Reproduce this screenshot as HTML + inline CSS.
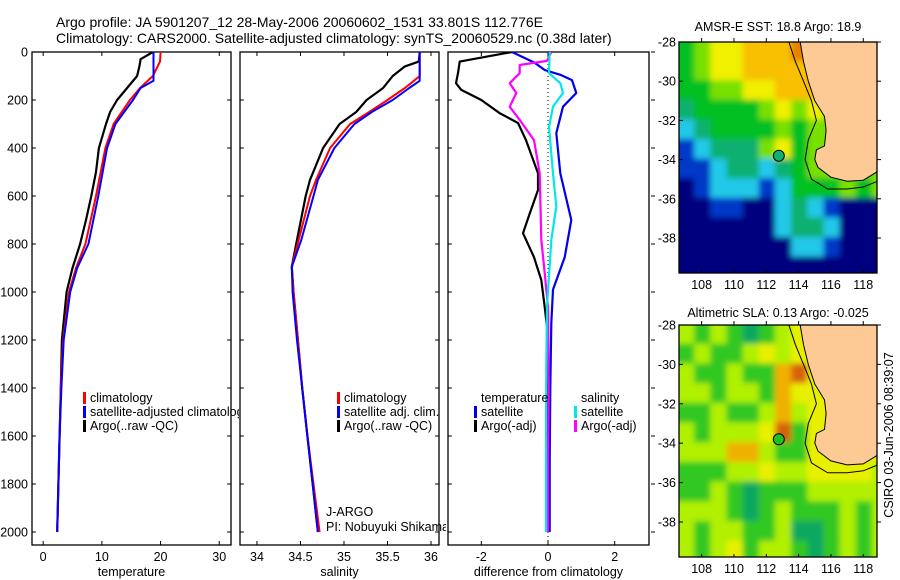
<!DOCTYPE html>
<html><head><meta charset="utf-8"><style>
html,body{margin:0;padding:0;background:#fff;}
svg{display:block;font-family:"Liberation Sans",sans-serif;}
text{fill:#000;}
</style></head><body>
<svg id="fig" width="900" height="580" viewBox="0 0 900 580" xmlns="http://www.w3.org/2000/svg">
<defs>
<clipPath id="clipP1"><rect x="32" y="52" width="199" height="493"/></clipPath>
<clipPath id="clipP2"><rect x="240" y="52" width="199" height="493"/></clipPath>
<clipPath id="clipP3"><rect x="448" y="52" width="201" height="493"/></clipPath>
<clipPath id="clipLeg1"><rect x="32" y="52" width="207" height="493"/></clipPath>
<clipPath id="clipLeg2"><rect x="240" y="52" width="206" height="493"/></clipPath>
<clipPath id="clipM1"><rect x="679" y="42" width="198" height="231"/></clipPath>
<clipPath id="clipM2"><rect x="679" y="325" width="198" height="232"/></clipPath>
<filter id="soft" filterUnits="userSpaceOnUse" x="600" y="0" width="300" height="580"><feGaussianBlur stdDeviation="3"/></filter>
</defs>
<text x="56" y="27" font-size="14">Argo profile: JA 5901207_12 28-May-2006 20060602_1531 33.801S 112.776E</text>
<text x="56" y="43" font-size="14">Climatology: CARS2000. Satellite-adjusted climatology: synTS_20060529.nc (0.38d later)</text>
<g id="root"></g>
<text x="778" y="31" font-size="12.5" text-anchor="middle">AMSR-E SST: 18.8 Argo: 18.9</text>
<text x="778" y="317" font-size="12.5" text-anchor="middle">Altimetric SLA: 0.13 Argo: -0.025</text>
<text transform="translate(893,435) rotate(-90)" font-size="12.5" text-anchor="middle">CSIRO 03-Jun-2006 08:39:07</text>
</svg>
<script>
// ---------- profile data ----------
const depthTempArgo = [0,30,60,100,150,200,250,300,400,500,600,700,800,900,1000,1200,1400,1600,1800,2000];
const tempArgo      = [18.7,16.6,16.4,16.0,14.3,12.6,11.4,10.7,9.5,9.0,8.2,7.3,6.3,5.0,4.0,3.2,3.0,2.8,2.6,2.4];
const depthTempClim = [0,40,100,150,200,300,400,600,800,900,1000,1200,1400,1600,1800,2000];
const tempClim      = [20.0,19.9,18.7,16.5,14.8,12.0,10.6,9.0,7.2,5.6,4.4,3.4,3.0,2.8,2.6,2.4];
const depthTempSat  = [0,120,150,200,300,400,600,800,900,1000,1200,1400,1600,1800,2000];
const tempSat       = [18.8,18.8,16.6,15.3,12.3,10.9,9.4,7.7,5.8,4.6,3.5,3.1,2.8,2.6,2.4];

const depthSalArgo = [0,40,60,100,150,200,250,300,400,533,600,783,895,1000,1200,1400,1600,1800,2000];
const salArgo      = [35.87,35.86,35.70,35.56,35.45,35.26,35.14,34.95,34.76,34.61,34.56,34.46,34.40,34.42,34.47,34.52,34.58,34.64,34.70];
const depthSalClim = [0,100,130,150,200,250,300,400,533,600,783,895,1000,1200,1400,1600,1800,2000];
const salClim      = [35.87,35.87,35.77,35.70,35.50,35.29,35.07,34.84,34.68,34.61,34.48,34.40,34.42,34.47,34.52,34.58,34.65,34.72];
const depthSalSat  = [0,120,150,200,250,300,400,533,600,783,895,1000,1200,1400,1600,1800,2000];
const salSat       = [35.87,35.87,35.75,35.56,35.32,35.12,34.89,34.70,34.65,34.51,34.40,34.41,34.46,34.52,34.58,34.64,34.70];

const depthDiffTA = [0,40,88,130,158,200,255,296,367,505,575,670,755,855,950,1062,1145,1400,1700,2000];
const diffTArgo   = [-1.08,-2.65,-2.7,-2.76,-2.6,-2.0,-1.45,-0.9,-0.66,-0.3,-0.3,-0.54,-0.75,-0.42,-0.2,-0.1,-0.03,0.0,0.0,0.0];
const depthDiffTS = [0,45,75,95,117,171,228,338,505,700,855,990,1130,1400,1700,2000];
const diffTSat    = [-1.08,-0.4,-0.1,0.37,0.72,0.85,0.45,0.25,0.37,0.7,0.5,0.15,0.1,0.07,0.05,0.05];
const depthDiffSA = [0,37,54,88,130,171,228,283,367,505,783,921,1062,1400,1700,2000];
const diffSArgo   = [0.1,-0.03,-0.85,-0.85,-1.15,-0.95,-1.15,-0.85,-0.42,-0.25,-0.2,-0.1,0.0,0.02,0.0,0.0];
const depthDiffSS = [0,88,130,171,228,312,505,645,783,1062,1300,1600,2000];
const diffSSat    = [0.05,0.03,0.37,0.45,0.15,0.03,0.15,0.25,0.1,-0.03,-0.05,-0.06,-0.06];

const depthTicks = [0,200,400,600,800,1000,1200,1400,1600,1800,2000];
const tempTicks = [0,10,20,30];
const salTicks = [34,34.5,35,35.5,36];
const diffTicks = [-2,0,2];

// ---------- map data ----------
const mapLatTicks = [28,30,32,34,36,38];
const mapLonTicks = [108,110,112,114,116,118];
const sstRows = ["GLYYOOORRYLLL","GLYYOOOOOYLLL","GGLLYYOOOYLLL","TGGGGLYLYLLLL","CTGGGGLGLLLLL","BCTTTLYGLLLLL","BBCTTCTGLLLLL","NBCCCBCGGGLGL","NNBBNNCTCBNNN","NNNNNNCTTCNNN","NNNNNNNCCBNNN","NNNNNNNNNNNNN"];
const slaRows = ["LGLGTGLYYYYYY","GLGGLYLYYYYYY","LGGLGGORYYYYY","LLGLLGOYYYYYY","GGLGGLOLYYYYY","LGLLLYRGYYYYY","LLLOOLGGYYYYY","GGGLLYLLYYYYL","GGLGTGGGLLLLL","LLLGTGLGGGLGL","LGLLGGLTTGLGL","LGLYGLLGTGLGL"];
const coastLon = [114.1,114.3,114.6,115.0,115.6,115.7,115.6,115.1,115.0,115.2,116.0,117.0,118.0,118.9,118.9];
const coastLat = [28.0,29.0,30.0,31.0,31.8,32.5,33.3,33.5,34.0,34.4,34.9,35.1,35.05,34.6,28.0];
const shelfLon = [113.4,113.8,114.3,114.8,115.1,114.6,114.4,114.8,115.8,117.0,118.0,118.9];
const shelfLat = [28.0,29.0,30.0,31.0,32.0,33.0,34.0,35.0,35.5,35.5,35.4,35.1];
const argoLon = [112.776];
const argoLat = [33.801];

const NS = "http://www.w3.org/2000/svg";
const root = document.getElementById('root');
function mk(tag, attrs, parent){
  const e = document.createElementNS(NS, tag);
  for (const k in attrs) e.setAttribute(k, attrs[k]);
  (parent || root).appendChild(e);
  return e;
}
const Y0 = 52, DPX = 0.24;
function yDepth(d){ return Y0 + d * DPX; }
function makeX(x0, x1, vmin, vmax){ return v => x0 + (v - vmin) / (vmax - vmin) * (x1 - x0); }

const panels = [
  {name:'temperature', x0:32, x1:231, xs:makeX(32,231,-1.9,32), ticks:tempTicks, label:'temperature', clip:'clipP1'},
  {name:'salinity', x0:240, x1:439, xs:makeX(240,439,33.805,36.092), ticks:salTicks, label:'salinity', clip:'clipP2'},
  {name:'difference', x0:448, x1:649, xs:makeX(448,649,-3.0,3.03), ticks:diffTicks, label:'difference from climatology', clip:'clipP3'}
];
const YB = 545;

panels.forEach((p, i) => {
  const g = mk('g', {});
  
  
  const fr = mk('rect', {x:p.x0, y:Y0, width:p.x1-p.x0, height:YB-Y0, fill:'none', stroke:'#000', 'stroke-width':1.3}, g);
  
  
  p.ticks.forEach(t => {
    const x = p.xs(t);
    mk('line', {x1:x, x2:x, y1:YB, y2:YB-4, stroke:'#000'}, g);
    mk('line', {x1:x, x2:x, y1:Y0, y2:Y0+4, stroke:'#000'}, g);
    const tl = mk('text', {x:x, y:561, 'font-size':12.5, 'text-anchor':'middle'}, g);
    tl.textContent = String(t);
    
    
  });
  depthTicks.forEach(d => {
    const y = yDepth(d);
    mk('line', {x1:p.x0, x2:p.x0+4, y1:y, y2:y, stroke:'#000'}, g);
    if (i < 2) mk('line', {x1:p.x1, x2:p.x1-4, y1:y, y2:y, stroke:'#000'}, g);
    else mk('line', {x1:p.x1+2, x2:p.x1+6, y1:y, y2:y, stroke:'#000'}, g);
    if (i === 0) {
      const yl = mk('text', {x:28, y:y+4.5, 'font-size':12.5, 'text-anchor':'end'}, g);
      yl.textContent = String(d);
      
      
    }
  });
  const xl = mk('text', {x:(p.x0+p.x1)/2, y:576, 'font-size':12.5, 'text-anchor':'middle'}, g);
  xl.textContent = p.label;
  
  
});

function drawLine(p, depths, vals, color, w, name){
  const pts = depths.map((d, k) => p.xs(vals[k]).toFixed(1) + ',' + yDepth(d).toFixed(1)).join(' ');
  const l = mk('polyline', {points:pts, fill:'none', stroke:color, 'stroke-width':w, 'stroke-linejoin':'round', 'clip-path':'url(#' + p.clip + ')'});
  
  
}
const zl = mk('line', {x1:panels[2].xs(0), x2:panels[2].xs(0), y1:Y0, y2:YB, stroke:'#000', 'stroke-dasharray':'1,3'});



drawLine(panels[0], depthTempArgo, tempArgo, '#000', 2.2, 'temperature-argo-line');
drawLine(panels[0], depthTempClim, tempClim, '#ff0000', 2, 'temperature-climatology-line');
drawLine(panels[0], depthTempSat, tempSat, '#0000ff', 2, 'temperature-satellite-line');
drawLine(panels[1], depthSalArgo, salArgo, '#000', 2.2, 'salinity-argo-line');
drawLine(panels[1], depthSalClim, salClim, '#ff0000', 2, 'salinity-climatology-line');
drawLine(panels[1], depthSalSat, salSat, '#0000ff', 2, 'salinity-satellite-line');
drawLine(panels[2], depthDiffTA, diffTArgo, '#000', 2.2, 'temp-diff-argo-line');
drawLine(panels[2], depthDiffTS, diffTSat, '#0000ee', 2.2, 'temp-diff-satellite-line');
drawLine(panels[2], depthDiffSA, diffSArgo, '#ff00ff', 2.2, 'sal-diff-argo-line');
drawLine(panels[2], depthDiffSS, diffSSat, '#00e8e8', 2.2, 'sal-diff-satellite-line');

function legendEntry(x, y, color, label, clip){
  const g = mk('g', clip ? {'clip-path':'url(#' + clip + ')'} : {});
  
  
  if (color) mk('rect', {x:x-7, y:y-10, width:3, height:12, fill:color}, g);
  const t = mk('text', {x:x, y:y, 'font-size':12.5}, g);
  t.textContent = label;
}
legendEntry(90, 402, '#ff0000', 'climatology', 'clipLeg1');
legendEntry(90, 416, '#0000ff', 'satellite-adjusted climatology', 'clipLeg1');
legendEntry(90, 430, '#000', 'Argo(..raw -QC)', 'clipLeg1');
legendEntry(344, 402, '#ff0000', 'climatology', 'clipLeg2');
legendEntry(344, 416, '#0000ff', 'satellite adj. clim.', 'clipLeg2');
legendEntry(344, 430, '#000', 'Argo(..raw -QC)', 'clipLeg2');
legendEntry(326, 516, null, 'J-ARGO', 'clipLeg2');
legendEntry(326, 531, null, 'PI: Nobuyuki Shikama', 'clipLeg2');
legendEntry(481, 402, null, 'temperature', null);
legendEntry(481, 416, '#0000ee', 'satellite', null);
legendEntry(481, 430, '#000', 'Argo(-adj)', null);
legendEntry(581, 402, null, 'salinity', null);
legendEntry(581, 416, '#00e8e8', 'satellite', null);
legendEntry(581, 430, '#ff00ff', 'Argo(-adj)', null);

const sstColors = {N:'#00007f',B:'#0038c8',C:'#20c8e8',T:'#10b070',G:'#00c020',L:'#78e000',Y:'#f0f000',O:'#f8c000',R:'#e88000',D:'#c85000'};
const slaColors = {L:'#b0f000',G:'#30c820',T:'#10a860',Y:'#e8f000',O:'#f0b000',R:'#d86010'};
function drawMap(cfg){
  const lonS = makeX(679, 877, 106.6, 118.85);
  const latS = v => cfg.y28 + (v - 28) * cfg.dy;
  const g = mk('g', {});
  
  
  const cg = mk('g', {'clip-path':'url(#' + cfg.clip + ')'}, g);
  const grid = mk('g', {filter:'url(#soft)'}, cg);
  cfg.rows.forEach((row, r) => {
    for (let c = 0; c < row.length; c++) {
      const x = lonS(106.6 + c), y = latS(28 + r);
      const ex0 = c === 0 ? 10 : 0, ey0 = r === 0 ? 10 : 0;
      const ex1 = c === row.length - 1 ? 10 : 0, ey1 = r === cfg.rows.length - 1 ? 10 : 0;
      const cell = mk('rect', {x:x-1-ex0, y:y-1-ey0, width:lonS(107.6+c)-x+2+ex0+ex1, height:cfg.dy+2+ey0+ey1, fill:cfg.colors[row[c]]}, grid);
      
      
    }
  });
  const land = mk('polygon', {points: coastLon.map((lo, k) => lonS(lo).toFixed(1) + ',' + latS(coastLat[k]).toFixed(1)).join(' ') + ' ' + lonS(120) + ',' + latS(34.6) + ' ' + lonS(120) + ',' + latS(27), fill:'#fdca96', stroke:'#000', 'stroke-width':1}, cg);
  
  
  const shelf = mk('polyline', {points: shelfLon.map((lo, k) => lonS(lo).toFixed(1) + ',' + latS(shelfLat[k]).toFixed(1)).join(' '), fill:'none', stroke:'#000', 'stroke-width':1}, cg);
  
  
  const dot = mk('circle', {cx:lonS(argoLon[0]), cy:latS(argoLat[0]), r:5.5, fill:cfg.dot, stroke:'#000', 'stroke-width':1}, cg);
  
  
  const fr = mk('rect', {x:679, y:cfg.y0, width:198, height:cfg.y1-cfg.y0, fill:'none', stroke:'#000', 'stroke-width':1.3}, g);
  
  
  mapLatTicks.forEach(la => {
    const y = latS(la);
    mk('line', {x1:679, x2:683, y1:y, y2:y, stroke:'#000'}, g);
    mk('line', {x1:877, x2:881, y1:y, y2:y, stroke:'#000'}, g);
    const t = mk('text', {x:676, y:y+4.5, 'font-size':12.5, 'text-anchor':'end'}, g);
    t.textContent = '-' + la;
    
    
  });
  mapLonTicks.forEach(lo => {
    const x = lonS(lo);
    mk('line', {x1:x, x2:x, y1:cfg.y0, y2:cfg.y0-4, stroke:'#000'}, g);
    mk('line', {x1:x, x2:x, y1:cfg.y1, y2:cfg.y1-3, stroke:'#000'}, g);
    const t = mk('text', {x:x, y:cfg.y1+16, 'font-size':12.5, 'text-anchor':'middle'}, g);
    t.textContent = String(lo);
    
    
  });
}
drawMap({name:'sst-map', clip:'clipM1', rows:sstRows, colors:sstColors, y0:42, y1:273, y28:42, dy:19.6, dot:'#10b070'});
drawMap({name:'sla-map', clip:'clipM2', rows:slaRows, colors:slaColors, y0:325, y1:557, y28:325, dy:19.7, dot:'#20c020'});
</script>
</body></html>
